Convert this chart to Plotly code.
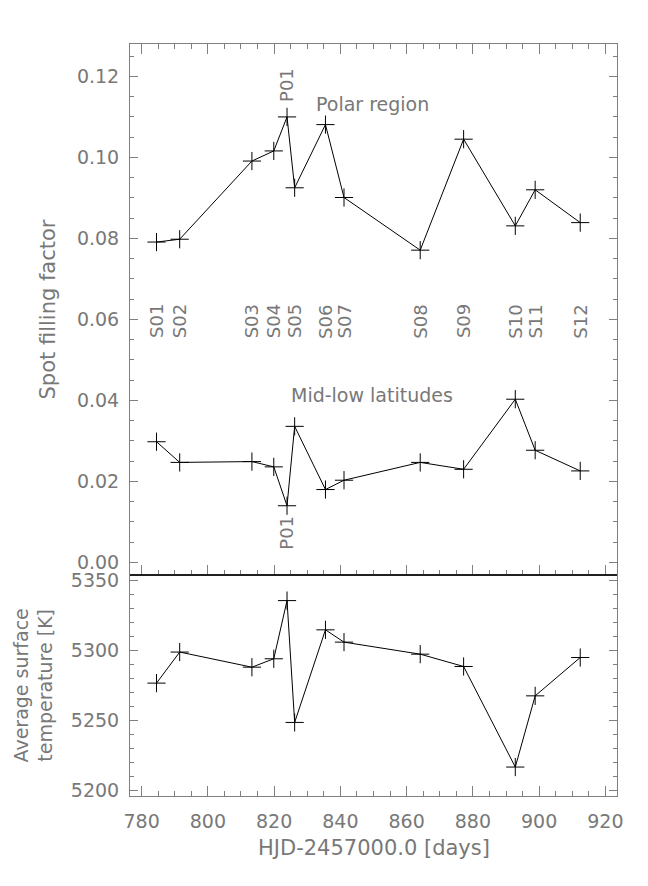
import plotly.graph_objects as go

# ---- data ----
hjd = [784.5, 791.5, 813.3, 819.9, 823.9, 826.2, 835.5, 841.1, 864.1, 877.2, 892.8, 898.8, 912.4]
labels = ["S01", "S02", "S03", "S04", "P01", "S05", "S06", "S07", "S08", "S09", "S10", "S11", "S12"]
polar = [0.0791, 0.0798, 0.0991, 0.1016, 0.1100, 0.0925, 0.1081, 0.0901, 0.0771, 0.1045, 0.0831, 0.0920, 0.0839]
midlow = [0.0298, 0.0247, 0.0249, 0.0236, 0.0140, 0.0336, 0.0180, 0.0203, 0.0247, 0.0230, 0.0403, 0.0277, 0.0226]
temp = [5276.7, 5298.9, 5288.1, 5294.1, 5335.7, 5248.6, 5314.8, 5306.0, 5297.4, 5288.6, 5216.7, 5267.6, 5295.0]

FONT = "DejaVu Sans"
GREY = "#787878"
AXC = "#808080"
SPLIT = 221 / 752

marker = dict(symbol="cross-thin-open", size=13, line=dict(color="black", width=1), color="black")
line = dict(color="black", width=1)

fig = go.Figure()
fig.add_trace(go.Scatter(x=hjd, y=polar, mode="lines+markers", marker=marker, line=line,
                         xaxis="x", yaxis="y", showlegend=False))
fig.add_trace(go.Scatter(x=hjd, y=midlow, mode="lines+markers", marker=marker, line=line,
                         xaxis="x", yaxis="y", showlegend=False))
fig.add_trace(go.Scatter(x=hjd, y=temp, mode="lines+markers", marker=marker, line=line,
                         xaxis="x2", yaxis="y2", showlegend=False))

tickfont = dict(family=FONT, size=19, color=GREY)
common_x = dict(range=[776.5, 923.5], dtick=20, tick0=780, ticks="inside", ticklen=10,
                tickcolor=AXC, showline=True, linecolor=AXC, linewidth=1, showgrid=False,
                zeroline=False, minor=dict(dtick=5, ticks="inside", ticklen=5, tickcolor=AXC))

lab_font = dict(family=FONT, size=18, color=GREY)
txt_font = dict(family=FONT, size=19, color=GREY)
annotations = []
for xv, lab in zip(hjd, labels):
    ys = [0.0595] if lab.startswith("S") else [0.1179, 0.00735]
    for yv in ys:
        annotations.append(dict(x=xv, y=yv, xref="x", yref="y", text=lab, textangle=-90,
                                xanchor="center", yanchor="middle",
                                showarrow=False, font=lab_font))

annotations += [
    dict(x=832, y=0.1133, xref="x", yref="y", text="Polar region", xanchor="left",
         yanchor="middle", showarrow=False, font=txt_font),
    dict(x=824.5, y=0.0413, xref="x", yref="y", text="Mid-low latitudes", xanchor="left",
         yanchor="middle", showarrow=False, font=txt_font),
    dict(x=(47 - 130) / 487, y=(796 - 309.5) / 752, xref="paper", yref="paper",
         text="Spot filling factor", textangle=-90, showarrow=False,
         xanchor="center", yanchor="middle",
         font=dict(family=FONT, size=21, color=GREY)),
    dict(x=(33 - 130) / 487, y=(796 - 685.5) / 752, xref="paper", yref="paper",
         text="Average surface<br>temperature [K]", textangle=-90, showarrow=False,
         xanchor="center", yanchor="middle",
         font=dict(family=FONT, size=19, color=GREY)),
    dict(x=0.5, y=(796 - 848) / 752, xref="paper", yref="paper",
         text="HJD-2457000.0 [days]", showarrow=False,
         xanchor="center", yanchor="middle",
         font=dict(family=FONT, size=21, color=GREY)),
]

fig.update_layout(
    width=648, height=886,
    margin=dict(l=130, r=31, t=44, b=90),
    plot_bgcolor="white", paper_bgcolor="white",
    xaxis=dict(domain=[0, 1], anchor="y", showticklabels=False, mirror="ticks", **common_x),
    xaxis2=dict(domain=[0, 1], anchor="y2", showticklabels=True, mirror=True,
                tickfont=tickfont, ticklabelstandoff=8, **common_x),
    yaxis=dict(domain=[SPLIT, 1], anchor="x", range=[-0.0031, 0.128], dtick=0.02, tick0=0,
               tickformat=".2f", ticks="inside", ticklen=8, tickcolor=AXC, showline=True,
               linecolor=AXC, mirror="ticks", showgrid=False, zeroline=False,
               tickfont=tickfont, ticklabelstandoff=6,
               minor=dict(dtick=0.005, ticks="inside", ticklen=4, tickcolor=AXC)),
    yaxis2=dict(domain=[0, SPLIT], anchor="x2", range=[5196, 5354], dtick=50, tick0=5200,
                ticks="inside", ticklen=8, tickcolor=AXC, showline=True, linecolor=AXC,
                mirror="ticks", showgrid=False, zeroline=False, tickfont=tickfont,
                ticklabelstandoff=6,
                minor=dict(dtick=10, ticks="inside", ticklen=4, tickcolor=AXC)),
    annotations=annotations,
    shapes=[dict(type="line", xref="paper", yref="paper", x0=0, x1=1, y0=SPLIT, y1=SPLIT,
                 line=dict(color="black", width=1.5))],
)

fig.write_html("out.html")
